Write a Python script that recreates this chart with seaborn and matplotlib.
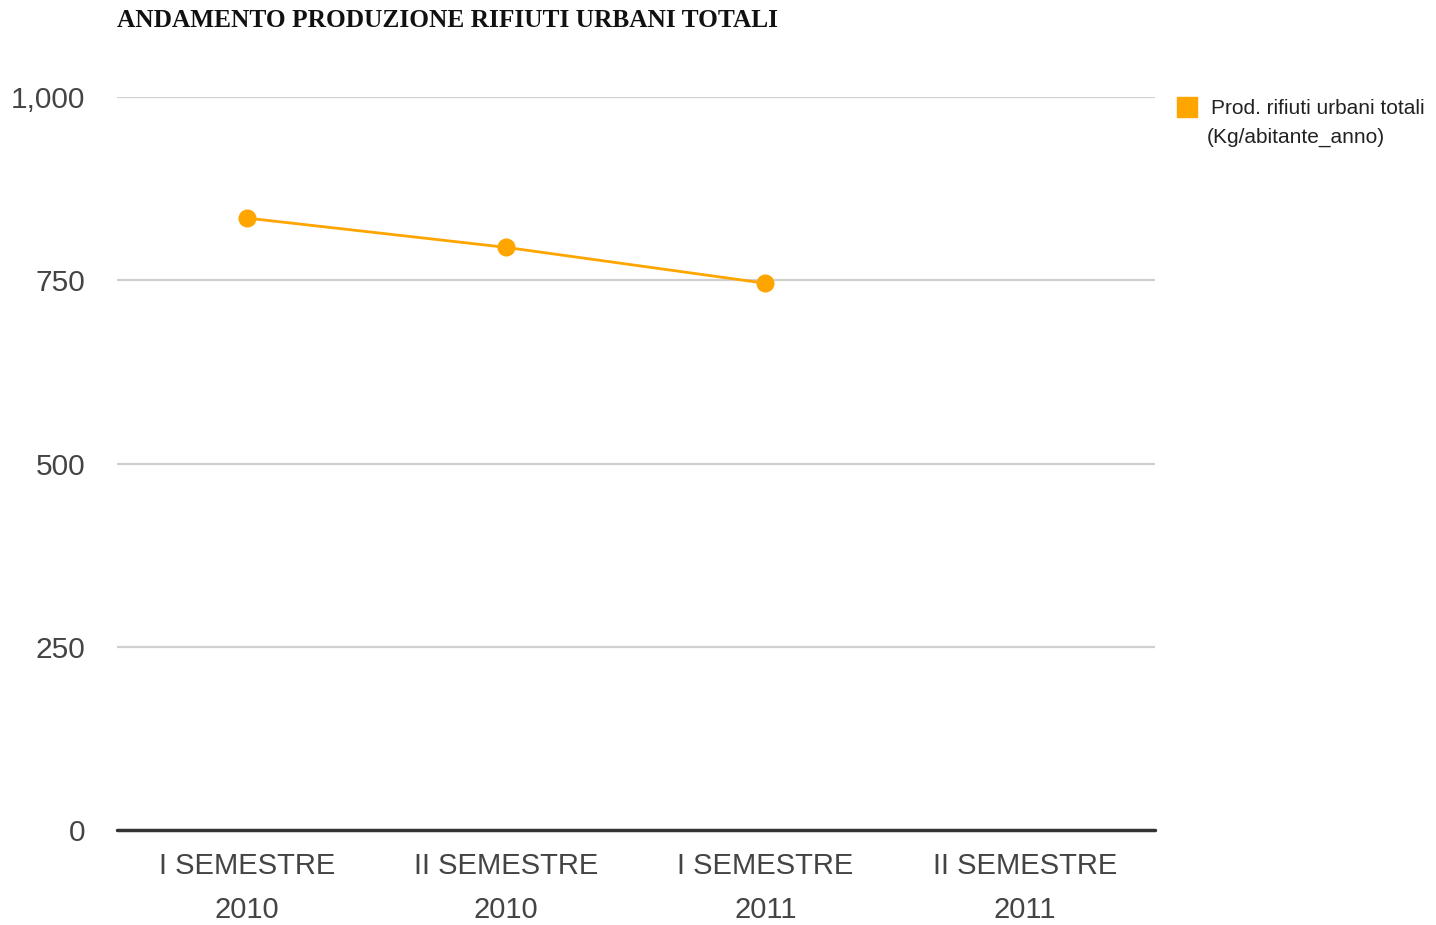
import pandas as pd
import matplotlib
matplotlib.use("Agg")
import matplotlib.pyplot as plt
from matplotlib.lines import Line2D
from matplotlib.ticker import FuncFormatter
import seaborn as sns

# Data
periods = ["I SEMESTRE\n2010", "II SEMESTRE\n2010", "I SEMESTRE\n2011", "II SEMESTRE\n2011"]
kg_per_inhabitant = [835, 795, 746, None]
series_label = "Prod. rifiuti urbani totali"
series_unit = "(Kg/abitante_anno)"
y_ticks = [0, 250, 500, 750, 1000]

ORANGE = "#FFA500"

sns.set_theme(style="white")
plt.rcParams["font.family"] = ["Liberation Sans", "DejaVu Sans"]

df = pd.DataFrame({"pos": range(len(periods)), "value": kg_per_inhabitant})
df["value"] = pd.to_numeric(df["value"])

fig = plt.figure(figsize=(14.36, 9.25), dpi=100)
ax = fig.add_axes([0.0815, 0.1027, 0.7225, 0.7923])

sns.lineplot(data=df.dropna(), x="pos", y="value", ax=ax, color=ORANGE,
             linewidth=2, marker="o", markersize=13, markeredgewidth=0)

ax.set_xlim(-0.5, len(periods) - 0.5)
ax.set_ylim(0, 1000)
ax.set_xticks(range(len(periods)))
ax.set_xticklabels(periods, fontsize=21, color="#444444", linespacing=1.7)
ax.set_yticks(y_ticks)
ax.yaxis.set_major_formatter(FuncFormatter(lambda v, p: f"{int(v):,}"))
ax.tick_params(axis="y", labelsize=21.5, labelcolor="#444444", length=0, pad=23)
ax.tick_params(axis="x", length=0, pad=16)
ax.set_xlabel("")
ax.set_ylabel("")

for y in y_ticks[1:]:
    ax.axhline(y, color="#d0d0d0", linewidth=1.6, zorder=0)
ax.axhline(0, color="#333333", linewidth=2.5, zorder=1, clip_on=False)
sns.despine(ax=ax, left=True, bottom=True)

fig.text(0.0815, 0.978, "ANDAMENTO PRODUZIONE RIFIUTI URBANI TOTALI",
         family=["Liberation Serif", "DejaVu Serif"], weight="bold",
         fontsize=18.3, color="#111111", va="center", ha="left")

handle = Line2D([], [], color=ORANGE, marker="s", linestyle="none", markersize=14)
fig.legend([handle], [series_label], loc="upper left",
           bbox_to_anchor=(0.818, 0.893), frameon=False, fontsize=15,
           handletextpad=0.55, handlelength=1.2, labelcolor="#222222",
           borderaxespad=0, borderpad=0)
fig.text(0.8405, 0.852, series_unit, fontsize=15, color="#222222",
         ha="left", va="center")

fig.savefig("out.png", dpi=100, facecolor="white")
